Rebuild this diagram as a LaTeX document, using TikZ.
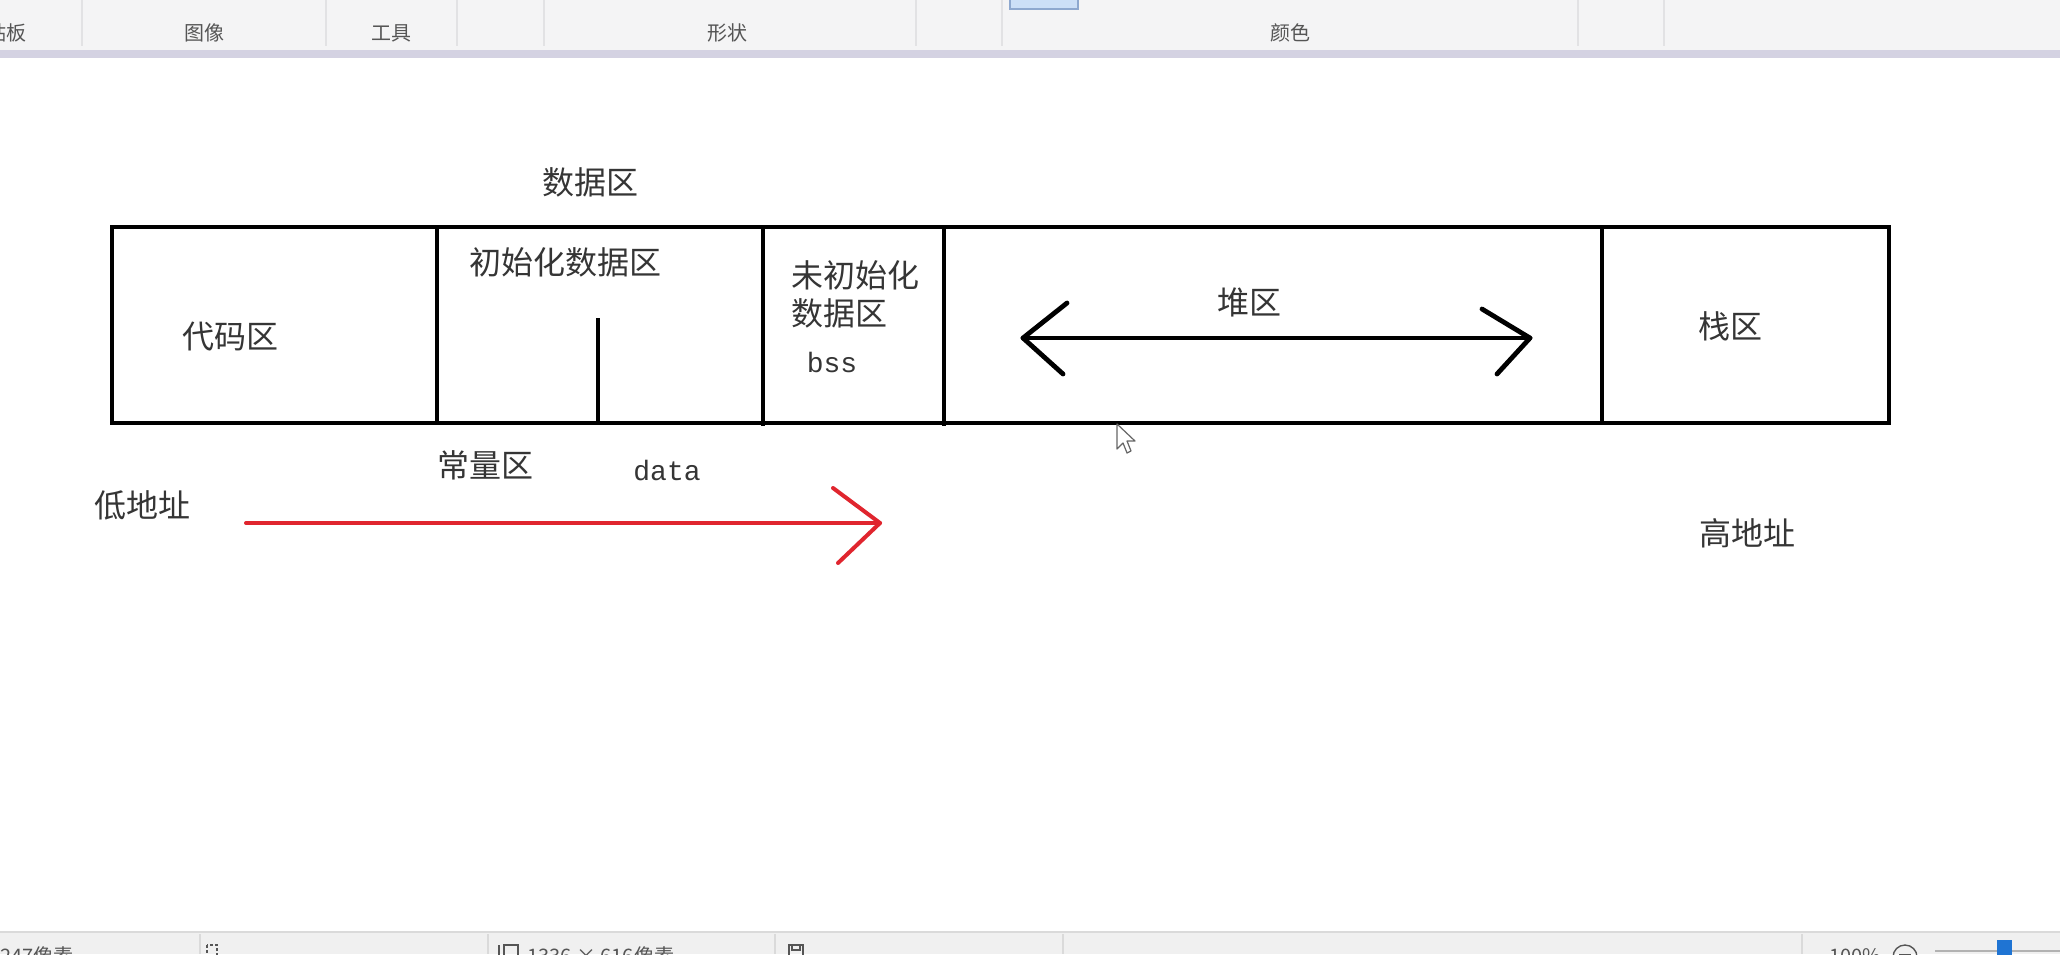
\documentclass[tikz,border=0pt]{standalone}
\usepackage{fontspec}
\setmainfont{Noto Sans CJK SC}
\newfontfamily\cjk{Noto Sans CJK SC}
\newfontfamily\monof{Liberation Mono}
\definecolor{txt}{HTML}{353535}
\definecolor{bartxt}{HTML}{555555}
\definecolor{tbbg}{HTML}{F4F4F5}
\definecolor{lav}{HTML}{D4D2E2}
\definecolor{sepc}{HTML}{E2E2E4}
\definecolor{sbbg}{HTML}{F0F0F0}
\definecolor{sbline}{HTML}{DADADA}
\definecolor{selblue}{HTML}{CCDFF7}
\definecolor{selborder}{HTML}{8EA8CF}
\definecolor{redarrow}{HTML}{E0252E}
\definecolor{thumb}{HTML}{1F74D3}
\begin{document}
\begin{tikzpicture}[x=0.5pt,y=-0.5pt,
  lbl/.style={font=\cjk\fontsize{16}{18}\selectfont, text=txt, inner sep=0pt},
  mono/.style={font=\monof\fontsize{14}{16}\selectfont, text=txt, inner sep=0pt},
  bar/.style={font=\cjk\fontsize{10}{12}\selectfont, text=bartxt, inner sep=0pt},
  stat/.style={font=\cjk\fontsize{10}{12}\selectfont, text=bartxt, inner sep=0pt},
  memrect/.style={draw=black, line width=2.3pt},
  divline/.style={draw=black, line width=1.9pt},
  blkarrow/.style={draw=black, line width=2.4pt, line cap=round, line join=round},
  redline/.style={draw=redarrow, line width=2pt, line cap=round, line join=round},
  sepline/.style={draw=sepc, line width=0.6pt},
  sbsep/.style={draw=sbline, line width=0.6pt},
  iconline/.style={draw=bartxt, line width=0.6pt}]
\useasboundingbox (0,0) rectangle (2060,954);
\clip (0,0) rectangle (2060,954);
\fill[white] (0,0) rectangle (2060,954);
% ---- toolbar ----
\fill[tbbg] (0,0) rectangle (2060,50);
\fill[lav] (0,50) rectangle (2060,58);
\foreach \sx in {82,326,457,544,916,1002,1578,1664}
  \draw[sepline] (\sx,0) -- (\sx,46);
\draw[fill=selblue, draw=selborder, line width=0.6pt] (1010,-4) rectangle (1078,9);
\node[bar, anchor=east] (tb0) at (27,33) {贴板};
\node[bar] (tb1) at (204,33) {图像};
\node[bar] (tb2) at (391,33) {工具};
\node[bar] (tb3) at (727,33) {形状};
\node[bar] (tb4) at (1290,33) {颜色};
% ---- status bar ----
\fill[sbbg] (0,932) rectangle (2060,954);
\draw[sbsep] (0,932) -- (2060,932);
\foreach \sx in {200,488,775,1063,1802}
  \draw[sbsep] (\sx,934) -- (\sx,954);
\node[stat, anchor=west] (sb0) at (0,956) {247像素};
\draw[iconline, dash pattern=on 1.5pt off 1pt] (207,945) rectangle (217,958);
\draw[iconline] (504,945) rectangle (518,958);
\draw[iconline] (499,945) -- (499,958);
\node[stat, anchor=west] (sb1) at (527,956) {1336 × 616像素};
\draw[iconline] (789,945) rectangle (803,958);
\draw[iconline] (792,945) rectangle (800,950);
\node[stat] (sb2) at (1855,956) {100\%};
\draw[draw=bartxt, line width=0.7pt] (1905,957) circle (12);
\draw[draw=bartxt, line width=1pt] (1899,955) -- (1911,955);
\draw[draw=gray!60, line width=1pt] (1935,951) -- (2060,951);
\fill[thumb] (1997,940) rectangle (2012,956);
% ---- memory layout ----
\draw[memrect] (112,227) rectangle (1889,423);
\draw[divline] (437,227) -- (437,424);
\draw[divline] (763,227) -- (763,426);
\draw[divline] (944,227) -- (944,426);
\draw[divline] (1602,227) -- (1602,423);
\draw[divline] (598,318) -- (598,423);
% labels
\node[lbl] (data0) at (590,182) {数据区};
\node[lbl] (init) at (565,262) {初始化数据区};
\node[lbl] (code) at (230,337) {代码区};
\node[lbl, anchor=west] (uninit1) at (791,275) {未初始化};
\node[lbl, anchor=west] (uninit2) at (791,313) {数据区};
\node[mono] (bss) at (832,362) {bss};
\node[lbl] (heap) at (1249,302) {堆区};
\node[lbl] (stack) at (1730,326) {栈区};
\node[lbl] (const) at (485,465) {常量区};
\node[mono] (datat) at (667,471) {data};
\node[lbl] (low) at (142,505) {低地址};
\node[lbl] (high) at (1747,533) {高地址};
% heap double arrow
\coordinate (hl) at (1023,338);
\coordinate (hr) at (1530,338);
\coordinate (hlu) at (1067,303);
\coordinate (hld) at (1063,374);
\coordinate (hru) at (1482,309);
\coordinate (hrd) at (1497,374);
\draw[blkarrow] (hl) -- (hr);
\draw[blkarrow] (hlu) -- (hl) -- (hld);
\draw[blkarrow] (hru) -- (hr) -- (hrd);
% red address arrow
\coordinate (ra) at (246,523);
\coordinate (rb) at (880,523);
\coordinate (rbu) at (833,488);
\coordinate (rbd) at (838,563);
\draw[redline] (ra) -- (rb);
\draw[redline] (rbu) -- (rb) -- (rbd);
% mouse cursor
\draw[fill=white, draw=gray!80!black, line width=0.6pt, line join=round]
  (1117,424) -- (1117,449) -- (1123,443) -- (1127,453) -- (1131,451) -- (1127,441) -- (1135,441) -- cycle;
\end{tikzpicture}
\end{document}
